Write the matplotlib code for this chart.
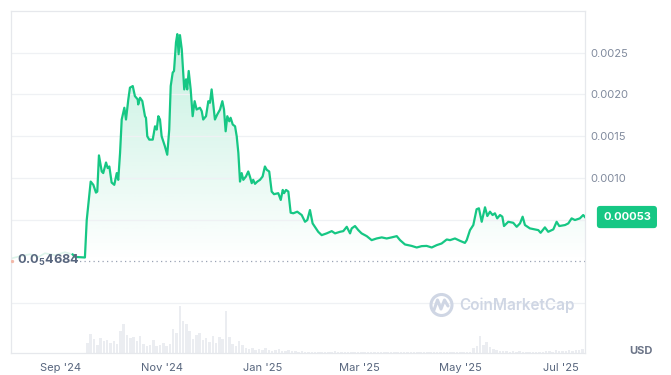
import datetime as dt
import numpy as np
import matplotlib
matplotlib.use("Agg")
import matplotlib.pyplot as plt
import matplotlib.dates as mdates
from matplotlib.patches import Circle

plt.rcParams['font.family'] = ['Inter', 'DejaVu Sans']
plt.rcParams['mathtext.fontset'] = 'custom'
plt.rcParams['mathtext.rm'] = 'Inter'
plt.rcParams['mathtext.bf'] = 'Inter:bold'

#------------------------------------------- Data -------------------------------------#
START = dt.datetime(2024, 9, 1)

# price, days since 2024-09-01
price_days = [
    7.1, 8.5, 14.5, 15.6, 18.0, 19.6, 21.2, 22.0, 23.0, 24.7, 25.6, 27.3, 28.3, 29.3,
    30.7, 32.3, 33.8, 34.7, 35.8, 36.8, 38.4, 39.4, 40.8, 41.8, 43.5, 44.8, 46.5, 46.8,
    47.9, 49.3, 50.9, 51.5, 52.3, 53.5, 55.6, 57.0, 58.0, 59.0, 60.0, 61.0, 63.0, 64.4,
    65.6, 66.5, 67.7, 68.5, 69.7, 70.5, 71.3, 72.1, 73.2, 74.1, 74.7, 75.8, 76.5, 77.4,
    78.6, 79.8, 81.0, 82.2, 84.2, 85.3, 86.2, 87.9, 89.3, 90.3, 91.3, 92.3, 93.3, 94.7,
    96.4, 97.8, 98.8, 99.8, 100.8, 102.0, 102.8, 104.1, 105.5, 106.5, 107.5, 108.5,
    109.5, 110.5, 112.1, 113.5, 114.5, 115.6, 116.5, 117.6, 119.0, 120.6, 122.2, 123.6,
    124.7, 126.2, 127.7, 129.1, 131.7, 133.2, 134.4, 135.2, 136.4, 137.8, 139.2, 140.8,
    143.2, 145.9, 147.9, 149.3, 150.9, 152.5, 153.9, 155.9, 158.0, 161.0, 164.1, 166.1,
    169.1, 171.1, 173.2, 175.2, 176.2, 178.2, 180.2, 182.2, 185.3, 188.3, 191.3, 194.4,
    197.4, 200.4, 203.5, 205.5, 208.5, 212.5, 215.6, 218.6, 221.6, 224.7, 227.7, 230.7,
    233.8, 235.8, 238.8, 241.8, 244.8, 245.9, 247.9, 249.9, 251.9, 253.3, 255.0, 257.0,
    258.4, 260.0, 261.6, 263.0, 264.4, 266.1, 267.5, 268.5, 271.1, 274.1, 276.2, 278.2,
    279.8, 281.2, 284.2, 287.3, 289.3, 290.7, 293.3, 295.3, 298.4, 300.4, 302.0, 305.5,
    307.5, 309.5, 311.5, 314.5, 316.5, 317.6,
]
price_usd = [
    0.000081, 0.000052, 0.000045, 0.000494, 0.000955, 0.000916, 0.000823, 0.000835,
    0.001269, 0.001076, 0.001057, 0.001184, 0.001117, 0.001136, 0.000943, 0.000916,
    0.001057, 0.000976, 0.001298, 0.001699, 0.001840, 0.001699, 0.001940, 0.002081,
    0.002100, 0.001980, 0.001940, 0.001880, 0.001960, 0.001920, 0.001739, 0.001720,
    0.001498, 0.001458, 0.001458, 0.001618, 0.001578, 0.001739, 0.001699, 0.001498,
    0.001377, 0.001277, 0.001578, 0.002100, 0.002261, 0.002281, 0.002623, 0.002723,
    0.002482, 0.002711, 0.002542, 0.002261, 0.002060, 0.002181, 0.002060, 0.002281,
    0.002060, 0.001739, 0.001919, 0.001819, 0.001840, 0.001799, 0.001699, 0.001739,
    0.001919, 0.001900, 0.002060, 0.001880, 0.001699, 0.001759, 0.001819, 0.001919,
    0.001819, 0.001558, 0.001739, 0.001678, 0.001720, 0.001639, 0.001618, 0.001498,
    0.001298, 0.000955, 0.001057, 0.000976, 0.001016, 0.001076, 0.001016, 0.000936,
    0.000976, 0.000928, 0.000955, 0.000976, 0.001016, 0.001136, 0.001096, 0.001076,
    0.000835, 0.000804, 0.000816, 0.000735, 0.000855, 0.000816, 0.000855, 0.000835,
    0.000582, 0.000575, 0.000594, 0.000554, 0.000473, 0.000494, 0.000614, 0.000454,
    0.000413, 0.000353, 0.000313, 0.000334, 0.000361, 0.000334, 0.000353, 0.000361,
    0.000413, 0.000334, 0.000394, 0.000422, 0.000373, 0.000334, 0.000301, 0.000253,
    0.000273, 0.000286, 0.000273, 0.000286, 0.000301, 0.000253, 0.000201, 0.000184,
    0.000165, 0.000181, 0.000184, 0.000165, 0.000193, 0.000213, 0.000261, 0.000253,
    0.000273, 0.000245, 0.000220, 0.000253, 0.000373, 0.000434, 0.000623, 0.000635,
    0.000473, 0.000647, 0.000542, 0.000594, 0.000554, 0.000575, 0.000514, 0.000554,
    0.000534, 0.000422, 0.000473, 0.000461, 0.000413, 0.000454, 0.000534, 0.000434,
    0.000394, 0.000382, 0.000373, 0.000341, 0.000406, 0.000353, 0.000382, 0.000473,
    0.000422, 0.000434, 0.000454, 0.000514, 0.000494, 0.000514, 0.000554, 0.000530,
]

# faint pre-range segment
early_days = [-29.7, -24.8, -18.8, -13.9, -9.7, -3.6, 2.4, 6.7]
early_usd = [0.000036, 0.000060, 0.000084, 0.000048, 0.000096, 0.000072, 0.000108, 0.000084]

base_price = 0.000004684
last_price = 0.00053

# volume, every 2 days from day 16 (relative units)
vol_start, vol_step = 16, 2
volume = [
    10, 19, 14, 8, 15, 12, 13, 10, 12, 9, 22, 30, 18, 15, 16, 12, 17, 9, 7, 8,
    13, 7, 8, 10, 7, 9, 25, 20, 48, 33, 30, 22, 14, 18, 20, 13, 15, 11, 17, 10,
    16, 14, 43, 16, 9, 7, 12, 8, 5, 4, 5, 3, 4, 3, 5, 3, 2, 3, 4, 2,
    2, 3, 2, 2, 1.5, 2, 1.5, 1.5, 1, 1, 1.5, 1, 1, 1.5, 1, 2, 1.5, 1.5, 1.5, 1,
    1, 1, 1, 1, 0.8, 0.8, 0.8, 0.8, 1, 0.8, 0.8, 0.8, 1, 0.8, 0.8, 1, 0.8, 0.8, 0.8, 0.8,
    0.8, 0.8, 1, 0.8, 0.8, 0.8, 0.8, 1, 0.8, 1, 1, 0.8, 0.8, 1, 0.8, 1, 1.5, 5, 7, 17,
    8, 11, 6, 4, 3, 2, 2, 2, 1.5, 2, 1.5, 2.5, 1.5, 1.5, 1.5, 1.5, 1.5, 1.5, 1.5, 2,
    2, 1.5, 3, 2, 2, 2, 3, 2.5, 3, 3.5, 4,
]

tick_dates = [dt.datetime(2024, 9, 1), dt.datetime(2024, 11, 1), dt.datetime(2025, 1, 1),
              dt.datetime(2025, 3, 1), dt.datetime(2025, 5, 1), dt.datetime(2025, 7, 1)]
tick_labels = ["Sep '24", "Nov '24", "Jan '25", "Mar '25", "May '25", "Jul '25"]
ytick_vals = [-0.0005, 0.0005, 0.0010, 0.0015, 0.0020, 0.0025]
ytick_labels = ["", "", "0.0010", "0.0015", "0.0020", "0.0025"]

#------------------------------------------- Plot -------------------------------------#
GREEN = "#16c784"
t0 = mdates.date2num(START)
px = t0 + np.array(price_days)
py = np.array(price_usd)
ex = t0 + np.array(early_days)
vx = t0 + vol_start + vol_step * np.arange(len(volume))
xmin, xmax = t0 - 30.3, t0 + 317.6

fig = plt.figure(figsize=(6.71, 3.75), dpi=100)
rect = [11 / 671, 22 / 375, 574 / 671, 342 / 375]

axv = fig.add_axes(rect)
axv.bar(vx, volume, width=1.5, color="#ebedf1", linewidth=0)
axv.set_xlim(xmin, xmax)
axv.set_ylim(0, max(volume) * 342 / 47)
axv.axis("off")

ax = fig.add_axes(rect, sharex=axv)
ax.patch.set_alpha(0)
ax.set_ylim(-0.0011, 0.0030)
ax.set_xlim(xmin, xmax)

# gradient fill under price line
poly = ax.fill_between(px, py, base_price, color="none", lw=0)
grad = np.zeros((256, 1, 4))
grad[:, 0, :3] = matplotlib.colors.to_rgb(GREEN)
grad[:, 0, 3] = np.linspace(0.26, 0.0, 256)
img = ax.imshow(grad, aspect="auto", extent=[xmin, xmax, base_price, 0.0028],
                origin="upper", zorder=1)
img.set_clip_path(poly.get_paths()[0], transform=ax.transData)

ax.plot(ex, early_usd, color="#dcf4ea", lw=1.2, zorder=2)
ax.plot(px, py, color=GREEN, lw=1.6, zorder=3, solid_joinstyle="round")
ax.plot([t0 + 8.5, xmax], [base_price, base_price], color="#9aa3b5", lw=0.9,
        ls=(0, (1, 2.6)), zorder=2)
ax.plot([t0 - 29.9], [base_price], marker="o", ms=2.4, color="#f2b8a8", mec="none", zorder=4)
ax.text(0.0105, base_price, r"$\mathbf{0.0_{5}4684}$", transform=ax.get_yaxis_transform(),
        ha="left", va="center", fontsize=9.2, color="#58667e", zorder=5)

# axes styling
for s in ax.spines.values():
    s.set_color("#e6e8ec")
    s.set_linewidth(0.9)
ax.set_yticks(ytick_vals)
ax.set_yticklabels(ytick_labels)
ax.yaxis.tick_right()
ax.tick_params(axis="y", length=0, pad=3.8, labelsize=8, labelcolor="#808a9d")
ax.grid(axis="y", color="#eff1f4", lw=0.9, zorder=0)
ax.set_xticks([mdates.date2num(d) for d in tick_dates])
ax.set_xticklabels(tick_labels)
ax.tick_params(axis="x", length=0, pad=7.5, labelsize=8, labelcolor="#58667e")

# current price tag
ax.text(1.0 + 18 / 574, last_price, "0.00053", transform=ax.get_yaxis_transform(),
        ha="left", va="center", fontsize=8, fontweight="bold", color="white", zorder=6,
        bbox=dict(boxstyle="round,pad=0.55,rounding_size=0.3", fc=GREEN, ec="none"),
        clip_on=False)

# watermark and currency label
ov = fig.add_axes([0, 0, 1, 1])
ov.set_xlim(0, 671)
ov.set_ylim(375, 0)
ov.axis("off")
ov.add_patch(Circle((441.5, 305), 10.5, fill=False, ec="#cfd6e4", lw=2.2))
ov.plot([434, 437.5, 441, 444.5, 448], [310, 300, 309, 300, 306], color="#cfd6e4", lw=2.2,
        solid_joinstyle="round", solid_capstyle="round")
ov.text(459, 305, "CoinMarketCap", fontsize=11, fontweight="semibold", color="#cfd6e4",
        ha="left", va="center")
ov.text(641, 351, "USD", fontsize=8, fontweight="bold", color="#6c7588", ha="center", va="center")

fig.savefig("out.png", dpi=100)
